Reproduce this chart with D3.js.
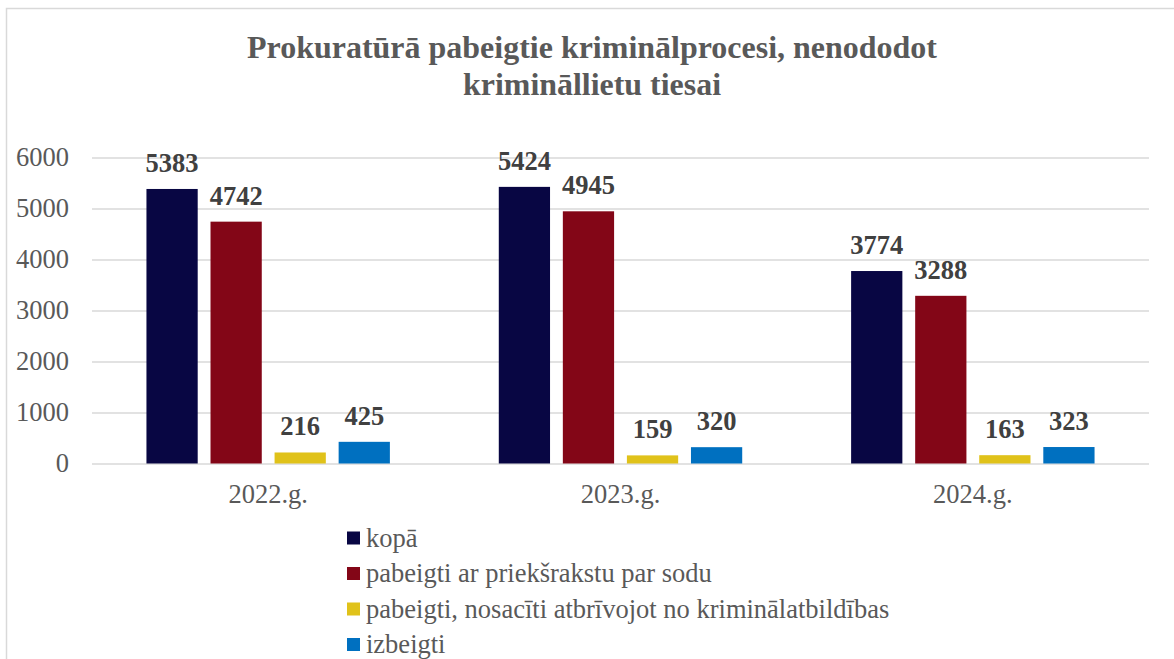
<!DOCTYPE html>
<html>
<head>
<meta charset="utf-8">
<script src="https://d3js.org/d3.v7.min.js"></script>
<style>
  body { margin: 0; background: #fff; }
  svg, svg text { font-family: "Liberation Serif", "Tinos", "DejaVu Serif", serif; }
</style>
</head>
<body>
<div id="chart"></div>
<script>
  var w = 1174, h = 659;

  var titleLines = ["Prokuratūrā pabeigtie kriminālprocesi, nenododot", "krimināllietu tiesai"];
  var years = ["2022.g.", "2023.g.", "2024.g."];
  var seriesNames = ["kopā", "pabeigti ar priekšrakstu par sodu",
    "pabeigti, nosacīti atbrīvojot no kriminālatbildības", "izbeigti"];
  var seriesColors = ["#080643", "#830617", "#e0c21a", "#0070c0"];
  var kopa = [5383, 5424, 3774];
  var arSodu = [4742, 4945, 3288];
  var nosaciti = [216, 159, 163];
  var izbeigti = [425, 320, 323];
  var yTicks = [0, 1000, 2000, 3000, 4000, 5000, 6000];

  var series = [kopa, arSodu, nosaciti, izbeigti];

  var svg = d3.select("#chart").append("svg").attr("width", w).attr("height", h);

  // chart frame (only left and top edges are visible in the crop)
  svg.append("path").attr("d", "M6.5,659V8.5H1174")
    .attr("fill", "none").attr("stroke", "#d9d9d9").attr("stroke-width", 1.5);

  var m = { left: 92, right: 1149, top: 157.5, bottom: 463.5 };

  var x = d3.scaleBand().domain(years).range([m.left, m.right]);
  var xs = d3.scaleBand().domain(d3.range(series.length))
    .range([0, x.bandwidth()]).paddingInner(0.2).paddingOuter(0.85);
  var y = d3.scaleLinear().domain([0, 6000]).range([m.bottom, m.top]);

  // title
  svg.append("g").selectAll("text").data(titleLines).enter().append("text")
    .attr("x", 592).attr("y", function(d, i) { return 58 + i * 37; })
    .attr("text-anchor", "middle")
    .attr("font-size", 32).attr("font-weight", "bold").attr("fill", "#595959")
    .attr("textLength", function(d, i) { return i == 0 ? 690 : 258; })
    .attr("lengthAdjust", "spacingAndGlyphs")
    .text(function(d) { return d; });

  // gridlines + y labels
  var yAxis = svg.append("g").attr("transform", "translate(" + m.left + ",0)")
    .call(d3.axisLeft(y).tickValues(yTicks).tickSize(-(m.right - m.left)).tickPadding(23).tickFormat(d3.format("d")));
  yAxis.attr("font-family", null);
  yAxis.select(".domain").remove();
  yAxis.selectAll(".tick line").attr("stroke", "#d9d9d9").attr("stroke-width", 1.5);
  yAxis.selectAll(".tick text").attr("font-size", 26.5).attr("fill", "#595959");

  // x labels
  var xAxis = svg.append("g").attr("transform", "translate(0," + m.bottom + ")")
    .call(d3.axisBottom(x).tickSize(0).tickPadding(21));
  xAxis.attr("font-family", null);
  xAxis.select(".domain").remove();
  xAxis.selectAll(".tick text").attr("font-size", 26.5).attr("fill", "#595959");

  // bars
  var groups = svg.append("g").selectAll("g").data(years).enter().append("g")
    .attr("transform", function(d) { return "translate(" + x(d) + ",0)"; });

  groups.each(function(yr, gi) {
    var g = d3.select(this);
    var vals = series.map(function(s, si) { return { si: si, v: s[gi] }; });
    g.selectAll("rect").data(vals).enter().append("rect")
      .attr("x", function(d) { return xs(d.si); })
      .attr("width", xs.bandwidth())
      .attr("y", function(d) { return y(d.v); })
      .attr("height", function(d) { return y(0) - y(d.v); })
      .attr("fill", function(d) { return seriesColors[d.si]; });
    g.selectAll("text").data(vals).enter().append("text")
      .attr("x", function(d) { return xs(d.si) + xs.bandwidth() / 2; })
      .attr("y", function(d) { return y(d.v) - 17; })
      .attr("text-anchor", "middle")
      .attr("font-size", 26.5).attr("font-weight", "bold").attr("fill", "#404040")
      .text(function(d) { return d.v; });
  });

  // legend
  var legend = svg.append("g").selectAll("g").data(seriesNames).enter().append("g")
    .attr("transform", function(d, i) { return "translate(347," + (531.5 + i * 35.5) + ")"; });
  legend.append("rect").attr("width", 13).attr("height", 13)
    .attr("fill", function(d, i) { return seriesColors[i]; });
  legend.append("text").attr("x", 19).attr("y", 15)
    .attr("font-size", 26.5).attr("fill", "#595959")
    .text(function(d) { return d; });
</script>
</body>
</html>
